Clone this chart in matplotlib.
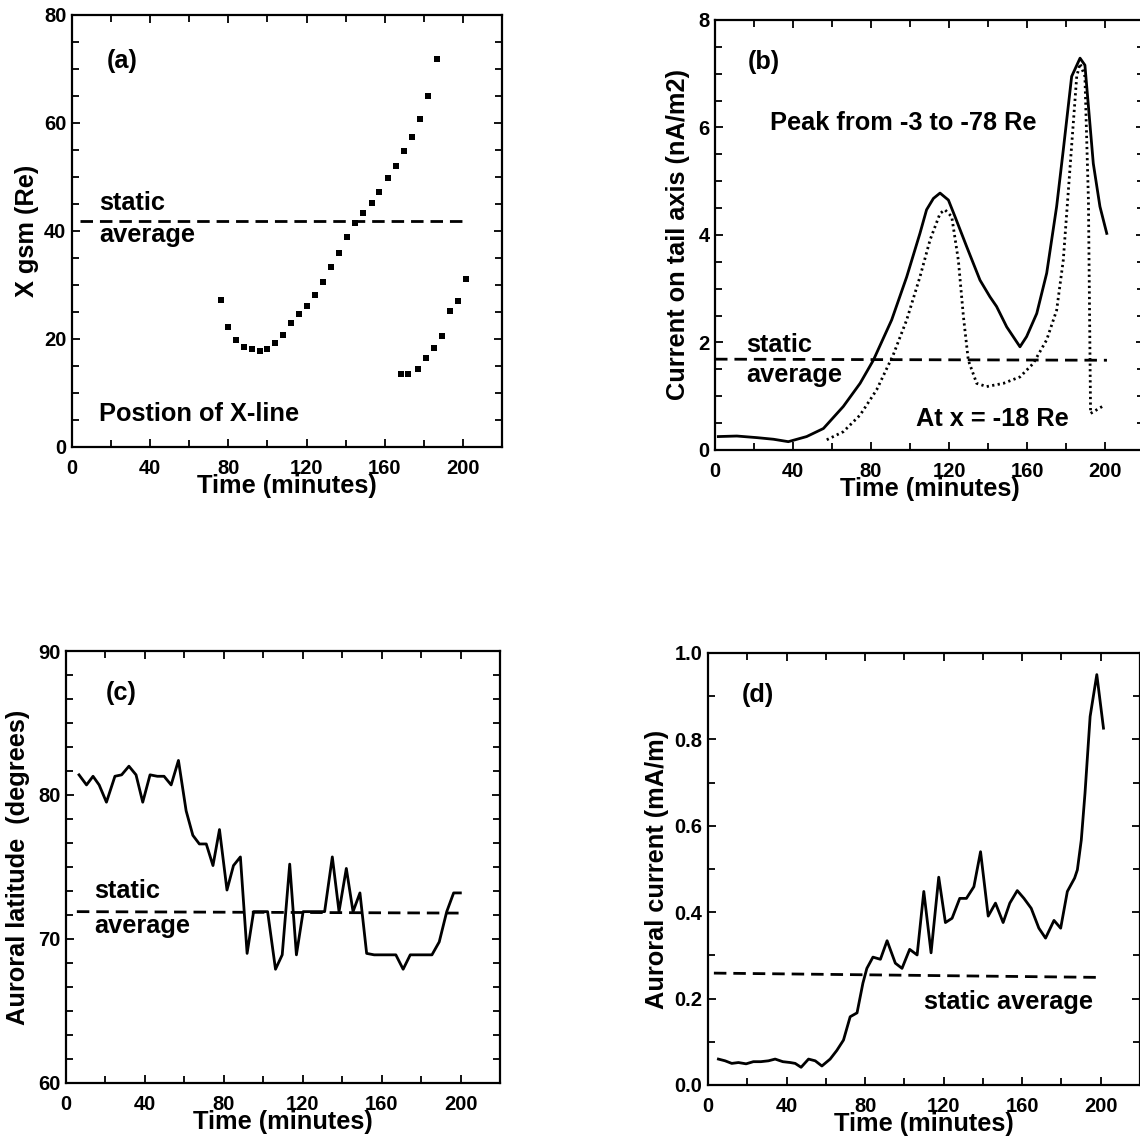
import matplotlib
matplotlib.use("Agg")
import matplotlib.pyplot as plt
from matplotlib.ticker import MultipleLocator

plt.rcParams['font.family'] = ['Liberation Sans', 'DejaVu Sans']
plt.rcParams['font.weight'] = 'bold'

# ---------------- data ----------------
# (a) X-line position
a_t1 = [76, 80, 84, 88, 92, 96, 100, 104, 108, 112, 116, 120, 124.5, 128.6, 132.6,
        136.7, 140.5, 144.6, 149, 153.3, 157.2, 161.5, 165.7, 170, 173.9, 178, 182.3, 186.5]
a_x1 = [27.2, 22.3, 19.9, 18.6, 18.1, 17.8, 18.2, 19.2, 20.7, 22.9, 24.6, 26.2, 28.1, 30.6, 33.4,
        36.0, 38.8, 41.4, 43.4, 45.2, 47.3, 49.8, 52.1, 54.8, 57.5, 60.7, 65.0, 71.8]
a_t2 = [168.1, 172, 176.8, 180.9, 185.2, 189.4, 193.4, 197.3, 201.4]
a_x2 = [13.5, 13.5, 14.4, 16.4, 18.4, 20.6, 25.1, 27.0, 31.2]
a_avg_t = [4, 202.6]
a_avg = [41.9, 41.9]

# (b) current on tail axis
b_peak_t = [1.7, 11.2, 21.5, 30, 37.6, 47, 55.6, 65.8, 74.4, 81.2, 90.6, 98.3, 105.1, 108.5,
            112, 115.4, 119.7, 123.1, 129.1, 135.9, 141, 144.4, 149.6, 156.4, 159.8, 165,
            170.1, 175.2, 178.6, 182.9, 187.2, 189.7, 194, 197.4, 200.9]
b_peak = [0.25, 0.26, 0.23, 0.20, 0.155, 0.25, 0.40, 0.81, 1.24, 1.67, 2.42, 3.22, 4.03, 4.47,
          4.68, 4.78, 4.65, 4.34, 3.78, 3.16, 2.85, 2.67, 2.29, 1.92, 2.11, 2.54,
          3.29, 4.53, 5.58, 6.95, 7.29, 7.16, 5.33, 4.53, 4.03]
b_x18_t = [57.3, 65.8, 74.4, 82.9, 91.4, 98.3, 105.1, 110.3, 115.4, 117.9, 121.4, 124.8, 127.4,
           129.9, 134.2, 139.3, 147.9, 156.4, 163.2, 170.1, 175.2, 178.6, 182.1, 185.5, 187.2,
           189.7, 191.5, 192.6, 200]
b_x18 = [0.19, 0.34, 0.65, 1.12, 1.77, 2.42, 3.22, 3.91, 4.40, 4.47, 4.34, 3.53, 2.48,
         1.67, 1.24, 1.18, 1.24, 1.36, 1.61, 2.05, 2.60, 3.53, 5.27, 6.95, 7.19,
         6.95, 4.65, 0.68, 0.84]
b_avg_t = [0, 201]
b_avg = [1.69, 1.67]

# (c) auroral latitude
c_t = [6.6, 10.4, 13.7, 16.8, 20.5, 24.8, 28.2, 31.9, 35.5, 38.9, 42.6, 46.3, 49.7, 53.3, 57,
       60.9, 64.3, 67.6, 71.1, 74.5, 77.8, 81.6, 84.9, 88.4, 91.8, 95.1, 98.5, 102.2, 106.2,
       109.6, 113.4, 116.8, 120.2, 124, 127.7, 131.1, 135, 138.4, 142.1, 145.5, 149, 152.4,
       156.2, 159.9, 163.8, 167.2, 170.9, 174.5, 178.3, 181.9, 185.5, 189.2, 193, 196.5, 199.9]
c_lat = [81.4, 80.7, 81.3, 80.7, 79.5, 81.3, 81.4, 82.0, 81.4, 79.5, 81.4, 81.3, 81.3, 80.7, 82.4,
         78.9, 77.2, 76.6, 76.6, 75.1, 77.6, 73.4, 75.1, 75.7, 69.0, 71.9, 71.9, 71.9, 67.9,
         68.9, 75.2, 68.9, 71.9, 71.9, 71.9, 71.9, 75.7, 71.9, 74.9, 71.9, 73.2, 69.0,
         68.9, 68.9, 68.9, 68.9, 67.9, 68.9, 68.9, 68.9, 68.9, 69.8, 71.9, 73.2, 73.2]
c_avg_t = [5.5, 199]
c_avg = [71.9, 71.8]

# (d) auroral current
d_t = [5.3, 8.7, 12.1, 15.5, 19.4, 23.1, 26.9, 30.8, 34.2, 38.1, 41.9, 44.4, 47.4, 51.2, 54.6,
       58, 62.2, 65.6, 69, 72.4, 75.9, 78.9, 80.9, 84, 87.8, 91.2, 95.4, 98.8, 102.7, 106.5,
       109.9, 113.6, 117.5, 120.9, 124.3, 128.2, 131.6, 135.4, 138.8, 142.7, 146.4, 150.3,
       153.7, 157.5, 160.9, 164.6, 168.5, 171.9, 176.2, 179.6, 183, 186.7, 188.1, 190.1, 192,
       194.6, 198, 201.4]
d_cur = [0.060, 0.056, 0.050, 0.052, 0.049, 0.054, 0.054, 0.056, 0.060, 0.054, 0.052, 0.050,
         0.041, 0.060, 0.056, 0.044, 0.060, 0.080, 0.104, 0.158, 0.167, 0.236, 0.270, 0.296,
         0.291, 0.334, 0.282, 0.270, 0.314, 0.301, 0.448, 0.306, 0.481, 0.376, 0.386, 0.432,
         0.432, 0.459, 0.540, 0.391, 0.421, 0.376, 0.421, 0.450, 0.432, 0.409, 0.363, 0.340,
         0.381, 0.363, 0.448, 0.479, 0.498, 0.567, 0.676, 0.853, 0.950, 0.826]
d_avg_t = [3, 201]
d_avg = [0.259, 0.249]

x_ticks = [0, 40, 80, 120, 160, 200]

# ---------------- figure ----------------
W, H = 1140, 1138
fig = plt.figure(figsize=(W / 100, H / 100), dpi=100)

def box(l, r, t, b):
    return [l / W, 1 - b / H, (r - l) / W, (b - t) / H]

axa = fig.add_axes(box(72, 502, 15, 447))
axb = fig.add_axes(box(715, 1144, 20, 450))
axc = fig.add_axes(box(66, 500, 651, 1083))
axd = fig.add_axes(box(708, 1140, 653, 1085))

TF = 14.5
LF = 18.3
dash = (0, (4.5, 2.5))

def style(ax, ylim, ymaj, ymin, ylabel, ylabelpad, yfmt=None):
    ax.set_xlim(0, 220)
    ax.set_ylim(*ylim)
    ax.set_xticks(x_ticks)
    ax.xaxis.set_minor_locator(MultipleLocator(20))
    ax.yaxis.set_major_locator(MultipleLocator(ymaj))
    ax.yaxis.set_minor_locator(MultipleLocator(ymin))
    ax.tick_params(which='both', direction='in', top=True, right=True,
                   width=1.3, labelsize=TF)
    ax.tick_params(which='major', length=6)
    ax.tick_params(which='minor', length=5)
    ax.tick_params(axis='x', pad=9)
    ax.tick_params(axis='y', pad=4)
    for lab in ax.get_xticklabels() + ax.get_yticklabels():
        lab.set_fontweight('bold')
    for s in ax.spines.values():
        s.set_linewidth(1.6)
    ax.set_xlabel('Time (minutes)', fontsize=LF, fontweight='bold', labelpad=-3)
    ax.set_ylabel(ylabel, fontsize=LF, fontweight='bold', labelpad=ylabelpad)
    if yfmt:
        ax.yaxis.set_major_formatter(yfmt)

# (a)
axa.plot(a_t1, a_x1, 's', color='black', ms=4.5, mew=0)
axa.plot(a_t2, a_x2, 's', color='black', ms=4.5, mew=0)
axa.plot(a_avg_t, a_avg, color='black', lw=2, linestyle=dash)
style(axa, (0, 80), 20, 5, 'X gsm (Re)', 4)
axa.text(18, 71.5, '(a)', fontsize=LF, fontweight='bold', va='center')
axa.text(14, 45.2, 'static', fontsize=LF, fontweight='bold', va='center')
axa.text(14, 39.2, 'average', fontsize=LF, fontweight='bold', va='center')
axa.text(14, 6.2, 'Postion of X-line', fontsize=LF, fontweight='bold', va='center')

# (b)
axb.plot(b_peak_t, b_peak, color='black', lw=2)
axb.plot(b_x18_t, b_x18, color='black', lw=2, linestyle=(0, (0.8, 1.2)))
axb.plot(b_avg_t, b_avg, color='black', lw=2, linestyle=dash)
style(axb, (0, 8), 2, 0.5, 'Current on tail axis (nA/m2)', 6)
axb.text(17, 7.22, '(b)', fontsize=LF, fontweight='bold', va='center')
axb.text(28, 6.08, 'Peak from -3 to -78 Re', fontsize=LF, fontweight='bold', va='center')
axb.text(16, 1.95, 'static', fontsize=LF, fontweight='bold', va='center')
axb.text(16, 1.40, 'average', fontsize=LF, fontweight='bold', va='center')
axb.text(103, 0.57, 'At x = -18 Re', fontsize=LF, fontweight='bold', va='center')

# (c)
axc.plot(c_t, c_lat, color='black', lw=2)
axc.plot(c_avg_t, c_avg, color='black', lw=2, linestyle=dash)
style(axc, (60, 90), 10, 10 / 6, 'Auroral latitude  (degrees)', 6)
axc.text(20, 87.1, '(c)', fontsize=LF, fontweight='bold', va='center')
axc.text(14.5, 73.3, 'static', fontsize=LF, fontweight='bold', va='center')
axc.text(14.5, 70.9, 'average', fontsize=LF, fontweight='bold', va='center')

# (d)
axd.plot(d_t, d_cur, color='black', lw=2)
axd.plot(d_avg_t, d_avg, color='black', lw=2, linestyle=dash)
style(axd, (0, 1.0), 0.2, 0.1, 'Auroral current (mA/m)', 4,
      yfmt=matplotlib.ticker.FormatStrFormatter('%.1f'))
axd.text(17, 0.903, '(d)', fontsize=LF, fontweight='bold', va='center')
axd.text(110, 0.193, 'static average', fontsize=LF, fontweight='bold', va='center')

fig.savefig('out.png', dpi=100)
